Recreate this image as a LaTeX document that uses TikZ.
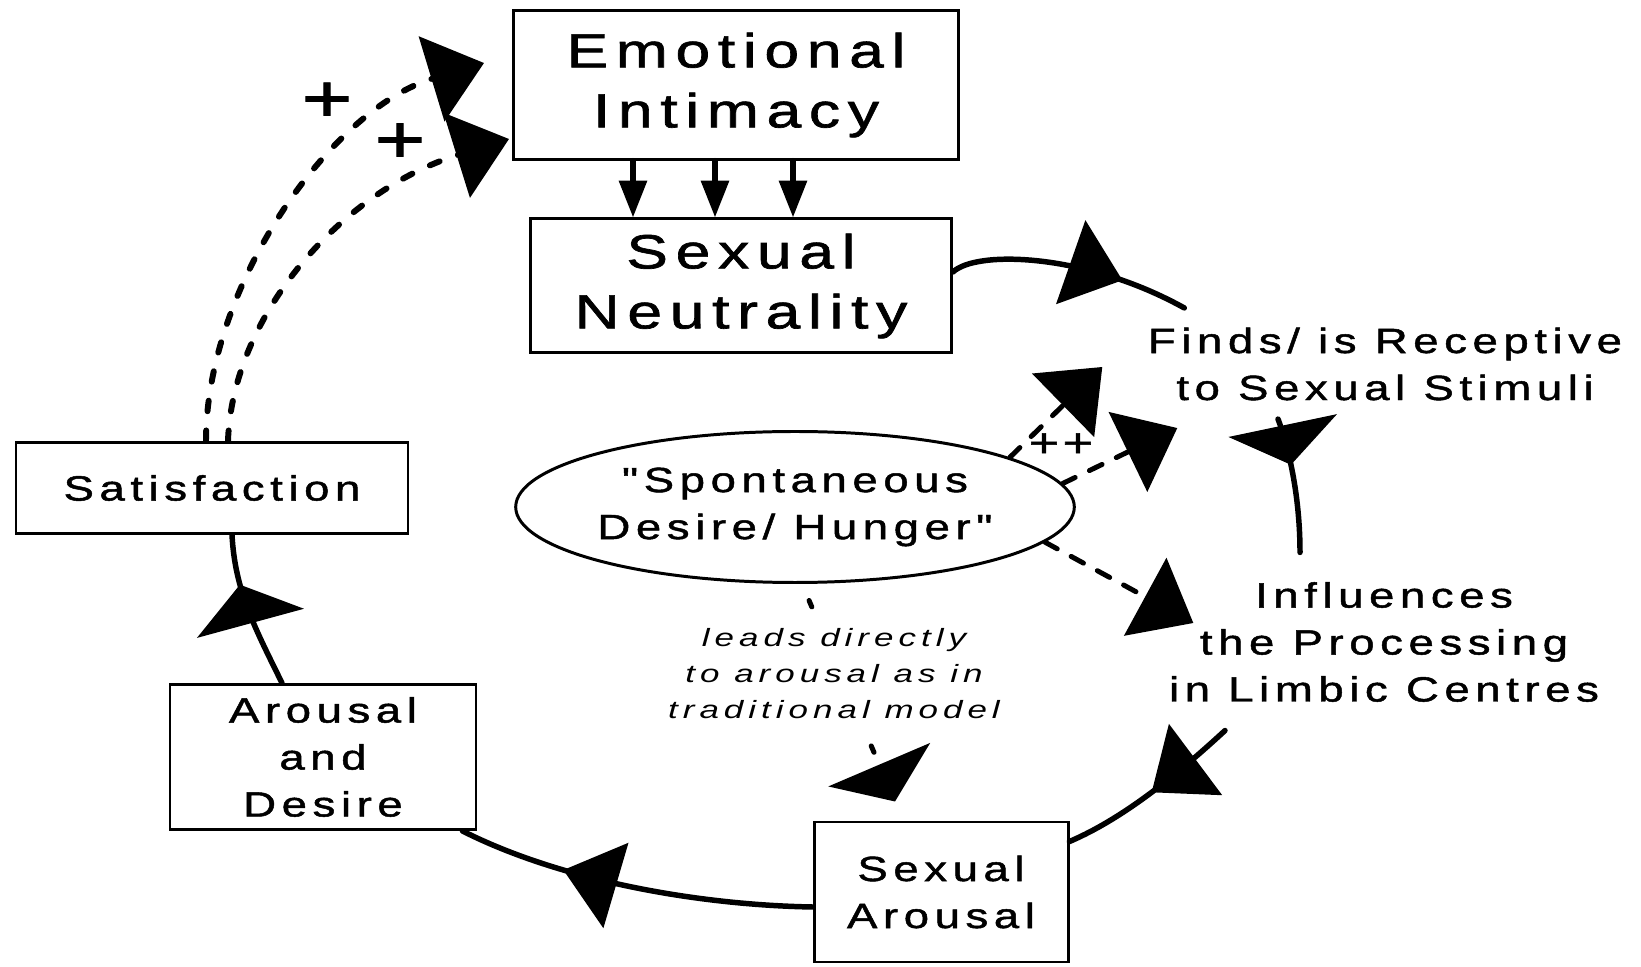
\documentclass[tikz,border=0pt]{standalone}
\usepackage{fontspec}
\setmainfont{Liberation Sans}
\newfontfamily\boxfont[FakeStretch=1.3,LetterSpace=16,FakeBold=1.4]{Liberation Sans}
\newfontfamily\notefont[FakeStretch=1.4,LetterSpace=20]{Liberation Sans}
\usetikzlibrary{arrows.meta,shapes.geometric,decorations.markings,calc}

\begin{document}
\begin{tikzpicture}[x=0.1mm, y=-0.1mm, line cap=round,
  >={Triangle[length=15.6pt,width=25pt]},
  box/.style={draw, line width=0.85pt, inner sep=0pt, align=center},
  bigtext/.style={font=\boxfont\fontsize{13.66}{17.07}\selectfont},
  midtext/.style={font=\boxfont\fontsize{9.96}{13.37}\selectfont},
  notetext/.style={font=\notefont\itshape\fontsize{7.11}{10.24}\selectfont},
  flow/.style={line width=1.56pt},
  dotflow/.style={line width=1.7pt, dash pattern=on 3pt off 5.5pt},
  dashflow/.style={line width=1.42pt, dash pattern=on 4pt off 4.5pt},
  notedot/.style={line width=1.42pt, dash pattern=on 2pt off 43pt, dash phase=39.9pt},
  flattip/.style={-{Triangle[length=11.4pt,width=31.3pt]}},
  tipat/.style={postaction={decorate}, decoration={markings,
    mark=at position #1 with {\arrow{Triangle[length=15.6pt,width=25pt]}}}},
  flattipat/.style={postaction={decorate}, decoration={markings,
    mark=at position #1 with {\arrow{Triangle[length=11.4pt,width=31.3pt]}}}}]

\useasboundingbox (0,0) rectangle (1641,967);

% --- boxes ---
\node[box, bigtext, minimum width=44.5mm, minimum height=14.9mm] (ei) at (736,85) {Emotional\\Intimacy};
\node[box, bigtext, minimum width=42.1mm, minimum height=13.4mm] (sn) at (741,286) {Sexual\\Neutrality};
\node[box, midtext, minimum width=39.2mm, minimum height=9.1mm] (sat) at (212,488) {Satisfaction};
\node[box, midtext, minimum width=30.6mm, minimum height=14.5mm] (ad) at (323,757) {Arousal\\and\\Desire};
\node[box, midtext, minimum width=25.4mm, minimum height=14.0mm] (sa) at (941,892) {Sexual\\Arousal};
\node[draw, ellipse, line width=0.85pt, midtext, align=center, inner sep=0pt,
  minimum width=54.3mm, minimum height=15.1mm] (ell) at (795,507)
  {\char"22 Spontaneous\\Desire/ Hunger\char"22};

% --- stage texts ---
\node[midtext, align=center, inner sep=0pt] (finds) at (1385,364) {Finds/ is Receptive\\to Sexual Stimuli};
\node[midtext, align=center, inner sep=0pt] (infl) at (1384,642) {Influences\\the Processing\\in Limbic Centres};

% --- intimacy feeds neutrality
\newcommand{\dropline}[1]{%
  \draw[line width=1.7pt, -{Triangle[length=10.5pt,width=7.7pt]}]
    ($(ei.south)+(#1,0)$) -- ($(ei.south |- sn.north)+(#1,0)$);
}
\dropline{-103}
\dropline{-21}
\dropline{57}

% --- main cycle (clockwise) ---
\draw[flow, tipat=0.72] ($(sn.east)+(0,-14)$) .. controls +(23,-22) and +(-99,-55) .. ($(finds.north west)+(37,-19)$);
\draw[flow, flattipat=0.35] ($(finds.south)+(-107,18)$) .. controls +(12,32) and +(0,-53) .. ($(infl.north)+(-84,-29)$);
\draw[flow, tipat=0.5] ($(infl.south)+(-159,28)$) .. controls +(-65,60) and +(42,-18) .. ($(sa.north east)+(0,21)$);
\draw[flow, tipat=0.7] ($(sa.west)+(0,15)$) .. controls +(-114,-2) and +(99,50) .. ($(ad.south east)+(-15,0)$);
\draw[flow, flattipat=0.68] ($(ad.north)+(-41,0)$) .. controls +(-27,-55) and +(3,56) .. ($(sat.south)+(20,0)$);

% --- satisfaction back to intimacy ---
\draw[dotflow, ->] ($(sat.north)+(-6,0)$) .. controls +(0,-153) and +(-155,47) .. ($(ei.west)+(-28,-22)$);
\draw[dotflow, ->] ($(sat.north)+(16,0)$) .. controls +(4,-123) and +(-170,53) .. ($(ei.south west)+(-3,-22)$);
\node[font=\boxfont\fontsize{19}{19}\selectfont, inner sep=0pt] (plusa) at (327,102) {+};
\node[font=\boxfont\fontsize{19}{19}\selectfont, inner sep=0pt] (plusb) at (400,143) {+};

% --- spontaneous desire ---
\draw[dashflow, ->] (ell.13) -- ($(finds.west)+(-45,3)$);
\draw[dashflow, ->] (ell.5) -- ($(finds.south west)+(30,27)$);
\node[font=\boxfont\fontsize{11.4}{11.4}\selectfont, inner sep=0pt] (plusc) at (1061,445) {+\hspace{1pt}+};
\draw[dashflow, ->] (ell.-8) -- ($(infl.west)+(25,-19)$);
\draw[notedot, flattip] ($(ell.south)+(7,0)$) -- ($(sa.north)+(-46,-19)$);
\node[notetext, align=center, fill=white, inner sep=2pt] (note) at (834,674) {leads directly\\to arousal as in\\traditional model};

\end{tikzpicture}
\end{document}
